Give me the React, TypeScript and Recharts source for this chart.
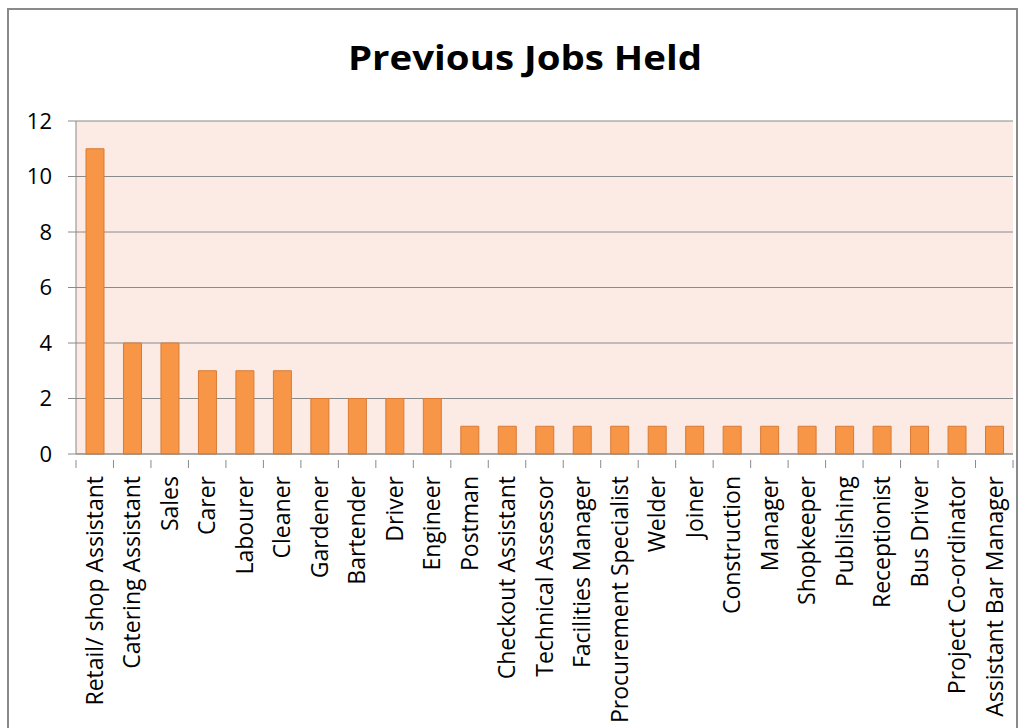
import { Bar, BarChart, CartesianGrid, XAxis, YAxis } from "recharts"

const jobs = [
  "Retail/ shop Assistant",
  "Catering Assistant",
  "Sales",
  "Carer",
  "Labourer",
  "Cleaner",
  "Gardener",
  "Bartender",
  "Driver",
  "Engineer",
  "Postman",
  "Checkout Assistant",
  "Technical Assessor",
  "Facilities Manager",
  "Procurement Specialist",
  "Welder",
  "Joiner",
  "Construction",
  "Manager",
  "Shopkeeper",
  "Publishing",
  "Receptionist",
  "Bus Driver",
  "Project Co-ordinator",
  "Assistant Bar Manager",
]

const counts = [11, 4, 4, 3, 3, 3, 2, 2, 2, 2, 1, 1, 1, 1, 1, 1, 1, 1, 1, 1, 1, 1, 1, 1, 1]

const yTicks = [0, 2, 4, 6, 8, 10, 12]

const data = jobs.map((job, i) => ({ job, count: counts[i] }))

const font = "'Open Sans', sans-serif"
const gray = "#8a8a8a"

// Excel puts the x tick marks between categories, so draw them at the band edges
function JobTick(props: any) {
  const { x, y, payload, index } = props
  const half = payload.offset ?? 0
  const axisY = y - 16
  return (
    <g>
      <line x1={x - half} x2={x - half} y1={axisY} y2={axisY + 8} stroke={gray} />
      {index === jobs.length - 1 && (
        <line x1={x + half} x2={x + half} y1={axisY} y2={axisY + 8} stroke={gray} />
      )}
      <text
        x={x}
        y={y}
        transform={`rotate(-90, ${x}, ${y})`}
        textAnchor="end"
        dy="0.36em"
        fontSize={23}
        fontFamily={font}
        fill="#000"
      >
        {payload.value}
      </text>
    </g>
  )
}

export default function App() {
  return (
    <div style={{ position: "fixed", left: 0, top: 0, width: 1028, height: 728, overflow: "hidden", background: "#fff" }}>
      <div
        style={{
          position: "absolute",
          left: 7,
          top: 8,
          width: 1011,
          height: 760,
          border: `2px solid ${gray}`,
          boxSizing: "border-box",
        }}
      />
      <div
        style={{
          position: "absolute",
          left: 0,
          top: 34,
          width: 1050,
          textAlign: "center",
          fontFamily: font,
          fontWeight: 700,
          fontSize: 34,
          lineHeight: "46px",
          color: "#000",
          transform: "scaleX(1.13)",
          transformOrigin: "525px 0",
        }}
      >
        Previous Jobs Held
      </div>
      <div style={{ position: "absolute", left: 0, top: 0 }}>
        <BarChart
          width={1028}
          height={728}
          data={data}
          margin={{ top: 121, right: 15, bottom: 0, left: 16 }}
          barSize={18}
        >
          <CartesianGrid vertical={false} fill="#fcebe5" stroke={gray} strokeWidth={1} />
          <XAxis
            dataKey="job"
            interval={0}
            height={274}
            stroke={gray}
            tickLine={false}
            tick={<JobTick />}
            tickMargin={16}
          />
          <YAxis
            domain={[0, 12]}
            ticks={yTicks}
            width={60}
            stroke={gray}
            tickSize={8}
            tickMargin={16}
            tick={{ fontSize: 22, fill: "#000", fontFamily: font }}
          />
          <Bar dataKey="count" fill="#f79646" stroke="#d97a35" strokeWidth={1} isAnimationActive={false} />
        </BarChart>
      </div>
    </div>
  )
}
